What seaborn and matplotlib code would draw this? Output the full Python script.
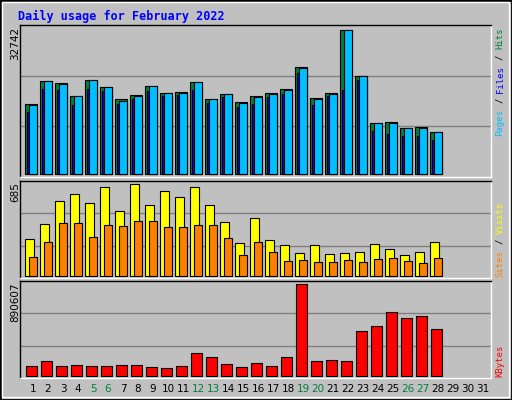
import matplotlib
matplotlib.use("Agg")
import matplotlib.pyplot as plt
import seaborn as sns
import numpy as np
from matplotlib.patches import Rectangle

days = list(range(1, 32))
day_labels = [str(d) for d in days]
weekend = [5, 6, 12, 13, 19, 20, 26, 27]
data_days = list(range(1, 29))

hits = [15853,21261,20742,17853,21409,19853,17038,18075,20076,18520,18742,20965,17187,18298,
        16298,17853,18520,19409,24372,17409,18520,32742,22298,11631,11853,10519,10742,9630]
pages = [15631,21261,20520,17853,21409,19853,16742,17853,20076,18520,18520,20965,17187,18298,
         16075,17631,18298,19187,24076,17187,18298,32742,22298,11631,11631,10519,10519,9630]
files = [14075,19409,19039,15631,19261,18964,15853,17038,18964,17853,18075,19039,16075,17631,
         15186,15853,17631,18298,22965,15631,17853,19187,21409,9853,9186,8741,8741,7852]
visits = [276,387,558,611,544,663,484,685,529,633,588,663,529,402,246,432,268,231,171,231,
          164,171,179,238,201,156,179,253]
sites = [141,253,395,395,290,380,372,410,410,365,365,380,380,283,156,253,179,112,119,104,
         104,119,104,127,134,112,97,134]
kbytes = [100762,149518,100762,110514,100762,100762,110514,110514,91011,81260,100762,227528,
          188523,120265,91011,130016,100762,188523,890607,149518,159270,149518,442054,490810,
          617576,559069,578571,461557]

sns.set_theme(style="white")
plt.rcParams['font.family'] = ['DejaVu Sans Mono', 'DejaVu Sans']
BG = "#C0C0C0"
W, H = 512, 400
fig = plt.figure(figsize=(5.12, 4.0), dpi=100, facecolor=BG)

def fx(x): return x / W
def fy(y): return 1 - y / H

fig.patches.append(Rectangle((0, 0), 1, 1, transform=fig.transFigure, fill=False,
                             edgecolor="black", linewidth=2))
fig.patches.append(Rectangle((fx(2), fy(397)), fx(507), 395/H, transform=fig.transFigure,
                             fill=False, edgecolor="white", linewidth=1))

def make_ax(top, bottom):
    ax = fig.add_axes([fx(20), fy(bottom), fx(491 - 20), (bottom - top) / H])
    ax.set_facecolor(BG)
    for s in ax.spines.values():
        s.set_color("black"); s.set_linewidth(1)
    ax.spines['bottom'].set_color("white"); ax.spines['right'].set_color("white")
    ax.set_xlim(0.13, 31.53)
    ax.set_xticks([]); ax.set_yticks([])
    return ax

def set_y(ax, M):
    b = -0.02 * M
    T = b + 1.02 * M / 0.966
    ax.set_ylim(b, T)
    for k in (1, 2):
        ax.axhline(b + (T - b) * k / 3, color="#808080", lw=1, zorder=0)

x = np.array(data_days, dtype=float)
kw = dict(align='edge', edgecolor='black', linewidth=0.8)

ax1 = make_ax(25, 177)
set_y(ax1, max(hits))
ax1.bar(x - 0.51, hits, width=0.76, color="#008040", **kw)
ax1.bar(x - 0.38, files, width=0.63, color="#0000FF", **kw)
ax1.bar(x - 0.25, pages, width=0.5, color="#00BFFF", **kw)

ax2 = make_ax(181, 278)
set_y(ax2, max(visits))
ax2.bar(x - 0.51, visits, width=0.55, color="#FFFF00", **kw)
ax2.bar(x - 0.25, sites, width=0.5, color="#FF8000", **kw)

ax3 = make_ax(281, 378)
set_y(ax3, max(kbytes))
ax3.bar(x - 0.45, kbytes, width=0.7, color="#FF0000", **kw)

fig.text(fx(18), fy(16), "Daily usage for February 2022", color="#0000FF",
         fontsize=8.5, fontweight="bold", va="center", ha="left")

for txt, ytop in (("32742", 27), ("685", 182), ("890607", 283)):
    fig.text(fx(15), fy(ytop), txt, rotation=90, va="top", ha="center",
             fontsize=7.5, color="black", fontfamily="DejaVu Sans")

for d, lab in zip(days, day_labels):
    px = 20 + (d - 0.13) * 15
    fig.text(fx(px), fy(389), lab, ha="center", va="center", fontsize=7.5,
             color="#008040" if d in weekend else "black", fontfamily="DejaVu Sans")

FS = 6.5
STEP = FS * 0.602 * 100 / 72

def right_label(parts, ybottom):
    pos = 0
    for txt, col in parts:
        t = txt.strip()
        lead = len(txt) - len(txt.lstrip())
        fig.text(fx(500), fy(ybottom - (pos + lead) * STEP), t, rotation=90, ha="center",
                 va="bottom", color=col, fontsize=FS)
        pos += len(txt)

right_label([("Pages", "#00BFFF"), (" / ", "black"), ("Files", "#0000FF"),
             (" / ", "black"), ("Hits", "#008040")], 136)
right_label([("Sites", "#FF8000"), (" / ", "black"), ("Visits", "#FFFF00")], 277)
right_label([("KBytes", "#FF0000")], 377)

fig.savefig("out.png", dpi=100, facecolor=BG)
